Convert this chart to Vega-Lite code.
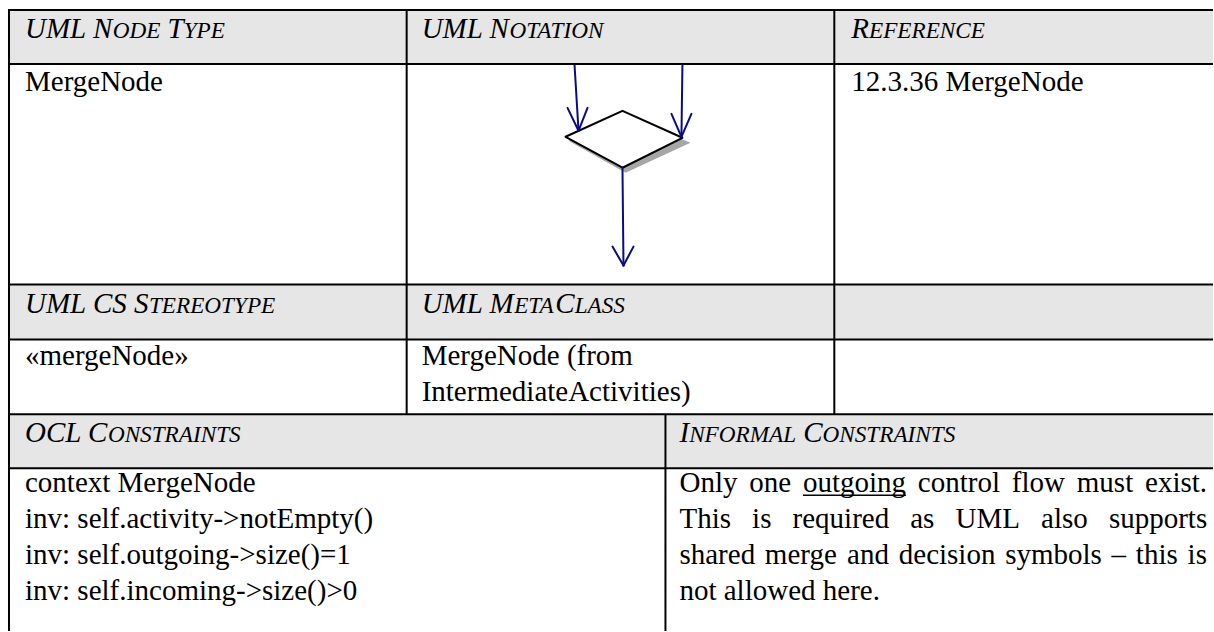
{
  "$schema": "https://vega.github.io/schema/vega-lite/v6.json",
  "width": 1214,
  "height": 632,
  "padding": 0,
  "autosize": {"type": "fit", "contains": "padding"},
  "background": "white",
  "config": {"view": {"stroke": null}},
  "datasets": {
    "fills": [
      {"x": 8, "x2": 1214, "y": 10, "y2": 64},
      {"x": 8, "x2": 1214, "y": 285, "y2": 340},
      {"x": 8, "x2": 1214, "y": 415, "y2": 469}
    ],
    "grid": [
      {"x": 8, "x2": 1214, "y": 10, "y2": 10},
      {"x": 8, "x2": 1214, "y": 64, "y2": 64},
      {"x": 8, "x2": 1214, "y": 285, "y2": 285},
      {"x": 8, "x2": 1214, "y": 340, "y2": 340},
      {"x": 8, "x2": 1214, "y": 415, "y2": 415},
      {"x": 8, "x2": 1214, "y": 469, "y2": 469},
      {"x": 9, "x2": 9, "y": 9, "y2": 632},
      {"x": 407, "x2": 407, "y": 9, "y2": 415},
      {"x": 835, "x2": 835, "y": 9, "y2": 415},
      {"x": 666, "x2": 666, "y": 415, "y2": 632}
    ],
    "shadow": [
      {"x": 569, "y": 141, "y2": 141},
      {"x": 626, "y": 116, "y2": 173},
      {"x": 691, "y": 143, "y2": 143}
    ],
    "diamond": [
      {"x": 566, "y": 137, "y2": 137},
      {"x": 623, "y": 111, "y2": 168},
      {"x": 683, "y": 138, "y2": 138}
    ],
    "arrows": [
      {"x": 575, "y": 65, "x2": 579, "y2": 131},
      {"x": 568, "y": 108, "x2": 579, "y2": 131},
      {"x": 588, "y": 108, "x2": 579, "y2": 131},
      {"x": 683, "y": 65, "x2": 682, "y2": 137},
      {"x": 672, "y": 114, "x2": 682, "y2": 137},
      {"x": 692, "y": 114, "x2": 682, "y2": 137},
      {"x": 623, "y": 168, "x2": 624, "y2": 266},
      {"x": 613, "y": 247, "x2": 624, "y2": 266},
      {"x": 634, "y": 247, "x2": 624, "y2": 266}
    ],
    "underline": [
      {"x": 803.6, "x2": 906.7, "y": 496, "y2": 496}
    ],
    "headBig": [
      {"x": 25, "y": 38, "t": "UML N"},
      {"x": 167.7, "y": 38, "t": "T"},
      {"x": 422, "y": 38, "t": "UML N"},
      {"x": 852, "y": 38, "t": "R"},
      {"x": 25, "y": 313, "t": "UML CS S"},
      {"x": 422, "y": 313, "t": "UML M"},
      {"x": 555.8, "y": 313, "t": "C"},
      {"x": 25, "y": 443, "t": "OCL C"},
      {"x": 680, "y": 443, "t": "I"},
      {"x": 803.9, "y": 443, "t": "C"}
    ],
    "headSmall": [
      {"x": 112.8, "y": 38, "t": "ODE"},
      {"x": 183.8, "y": 38, "t": "YPE"},
      {"x": 509.8, "y": 38, "t": "OTATION"},
      {"x": 869.7, "y": 38, "t": "EFERENCE"},
      {"x": 149.1, "y": 313, "t": "TEREOTYPE"},
      {"x": 514.6, "y": 313, "t": "ETA"},
      {"x": 575.1, "y": 313, "t": "LASS"},
      {"x": 108.0, "y": 443, "t": "ONSTRAINTS"},
      {"x": 689.7, "y": 443, "t": "NFORMAL"},
      {"x": 823.2, "y": 443, "t": "ONSTRAINTS"}
    ],
    "body": [
      {"x": 25, "y": 91, "t": "MergeNode"},
      {"x": 852, "y": 91, "t": "12.3.36 MergeNode"},
      {"x": 25, "y": 366, "t": "«mergeNode»"},
      {"x": 422, "y": 366, "t": "MergeNode (from"},
      {"x": 422, "y": 402, "t": "IntermediateActivities)"},
      {"x": 25, "y": 493, "t": "context MergeNode"},
      {"x": 25, "y": 529, "t": "inv: self.activity->notEmpty()"},
      {"x": 25, "y": 565, "t": "inv: self.outgoing->size()=1"},
      {"x": 25, "y": 601, "t": "inv: self.incoming->size()>0"},
      {"x": 680, "y": 493, "t": "Only"},
      {"x": 749.9, "y": 493, "t": "one"},
      {"x": 803.6, "y": 493, "t": "outgoing"},
      {"x": 918.6, "y": 493, "t": "control"},
      {"x": 1012.6, "y": 493, "t": "flow"},
      {"x": 1077.7, "y": 493, "t": "must"},
      {"x": 1146.0, "y": 493, "t": "exist."},
      {"x": 680, "y": 529, "t": "This"},
      {"x": 752.7, "y": 529, "t": "is"},
      {"x": 793.2, "y": 529, "t": "required"},
      {"x": 911.0, "y": 529, "t": "as"},
      {"x": 956.3, "y": 529, "t": "UML"},
      {"x": 1041.9, "y": 529, "t": "also"},
      {"x": 1109.8, "y": 529, "t": "supports"},
      {"x": 680, "y": 565, "t": "shared"},
      {"x": 765.5, "y": 565, "t": "merge"},
      {"x": 847.8, "y": 565, "t": "and"},
      {"x": 899.5, "y": 565, "t": "decision"},
      {"x": 1006.0, "y": 565, "t": "symbols"},
      {"x": 1112.5, "y": 565, "t": "–"},
      {"x": 1136.8, "y": 565, "t": "this"},
      {"x": 1188.6, "y": 565, "t": "is"},
      {"x": 680, "y": 601, "t": "not allowed here."}
    ]
  },
  "layer": [
    {
      "data": {"name": "fills"},
      "mark": {"type": "rect", "color": "#e6e6e6"},
      "encoding": {
        "x": {"field": "x", "type": "quantitative", "scale": {"domain": [0, 1214], "nice": false, "zero": false}, "axis": null},
        "x2": {"field": "x2"},
        "y": {"field": "y", "type": "quantitative", "scale": {"domain": [0, 632], "nice": false, "zero": false, "reverse": true}, "axis": null},
        "y2": {"field": "y2"}
      }
    },
    {
      "data": {"name": "shadow"},
      "mark": {"type": "area", "color": "#a6a6a6", "interpolate": "linear"},
      "encoding": {
        "x": {"field": "x", "type": "quantitative", "scale": {"domain": [0, 1214], "nice": false, "zero": false}, "axis": null},
        "y": {"field": "y", "type": "quantitative", "scale": {"domain": [0, 632], "nice": false, "zero": false, "reverse": true}, "axis": null},
        "y2": {"field": "y2"}
      }
    },
    {
      "data": {"name": "diamond"},
      "mark": {"type": "area", "fill": "white", "stroke": "black", "strokeWidth": 2, "interpolate": "linear", "strokeJoin": "round"},
      "encoding": {
        "x": {"field": "x", "type": "quantitative", "scale": {"domain": [0, 1214], "nice": false, "zero": false}, "axis": null},
        "y": {"field": "y", "type": "quantitative", "scale": {"domain": [0, 632], "nice": false, "zero": false, "reverse": true}, "axis": null},
        "y2": {"field": "y2"}
      }
    },
    {
      "data": {"name": "arrows"},
      "mark": {"type": "rule", "color": "#0b0b8a", "strokeWidth": 2, "strokeCap": "round"},
      "encoding": {
        "x": {"field": "x", "type": "quantitative", "scale": {"domain": [0, 1214], "nice": false, "zero": false}, "axis": null},
        "x2": {"field": "x2"},
        "y": {"field": "y", "type": "quantitative", "scale": {"domain": [0, 632], "nice": false, "zero": false, "reverse": true}, "axis": null},
        "y2": {"field": "y2"}
      }
    },
    {
      "data": {"name": "grid"},
      "mark": {"type": "rule", "color": "black", "strokeWidth": 2},
      "encoding": {
        "x": {"field": "x", "type": "quantitative", "scale": {"domain": [0, 1214], "nice": false, "zero": false}, "axis": null},
        "x2": {"field": "x2"},
        "y": {"field": "y", "type": "quantitative", "scale": {"domain": [0, 632], "nice": false, "zero": false, "reverse": true}, "axis": null},
        "y2": {"field": "y2"}
      }
    },
    {
      "data": {"name": "underline"},
      "mark": {"type": "rule", "color": "black", "strokeWidth": 1.5},
      "encoding": {
        "x": {"field": "x", "type": "quantitative", "scale": {"domain": [0, 1214], "nice": false, "zero": false}, "axis": null},
        "x2": {"field": "x2"},
        "y": {"field": "y", "type": "quantitative", "scale": {"domain": [0, 632], "nice": false, "zero": false, "reverse": true}, "axis": null},
        "y2": {"field": "y2"}
      }
    },
    {
      "data": {"name": "headBig"},
      "mark": {"type": "text", "font": "Liberation Serif", "fontStyle": "italic", "fontSize": 29, "align": "left", "baseline": "alphabetic", "color": "black"},
      "encoding": {
        "x": {"field": "x", "type": "quantitative", "scale": {"domain": [0, 1214], "nice": false, "zero": false}, "axis": null},
        "y": {"field": "y", "type": "quantitative", "scale": {"domain": [0, 632], "nice": false, "zero": false, "reverse": true}, "axis": null},
        "text": {"field": "t"}
      }
    },
    {
      "data": {"name": "headSmall"},
      "mark": {"type": "text", "font": "Liberation Serif", "fontStyle": "italic", "fontSize": 23.2, "align": "left", "baseline": "alphabetic", "color": "black"},
      "encoding": {
        "x": {"field": "x", "type": "quantitative", "scale": {"domain": [0, 1214], "nice": false, "zero": false}, "axis": null},
        "y": {"field": "y", "type": "quantitative", "scale": {"domain": [0, 632], "nice": false, "zero": false, "reverse": true}, "axis": null},
        "text": {"field": "t"}
      }
    },
    {
      "data": {"name": "body"},
      "mark": {"type": "text", "font": "Liberation Serif", "fontSize": 29, "align": "left", "baseline": "alphabetic", "color": "black"},
      "encoding": {
        "x": {"field": "x", "type": "quantitative", "scale": {"domain": [0, 1214], "nice": false, "zero": false}, "axis": null},
        "y": {"field": "y", "type": "quantitative", "scale": {"domain": [0, 632], "nice": false, "zero": false, "reverse": true}, "axis": null},
        "text": {"field": "t"}
      }
    }
  ]
}
